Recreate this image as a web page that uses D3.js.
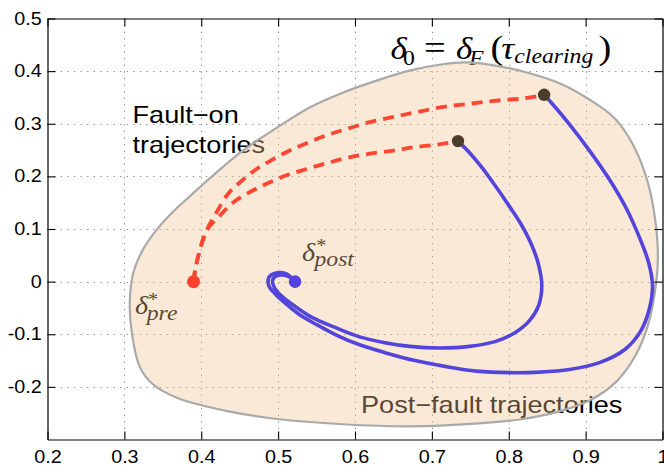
<!DOCTYPE html>
<html>
<head>
<meta charset="utf-8">
<script src="https://cdn.jsdelivr.net/npm/d3@7"></script>
<style>
  body { margin: 0; background: #fff; }
  svg { display: block; }
</style>
</head>
<body>
<svg id="chart" width="664" height="466"></svg>
<script>
// ---- axis ticks ----
const xTickValues = [0.2, 0.3, 0.4, 0.5, 0.6, 0.7, 0.8, 0.9, 1.0];
const xTickLabels = ["0.2", "0.3", "0.4", "0.5", "0.6", "0.7", "0.8", "0.9", "1"];
const yTickValues = [-0.2, -0.1, 0, 0.1, 0.2, 0.3, 0.4, 0.5];
const yTickLabels = ["-0.2", "-0.1", "0", "0.1", "0.2", "0.3", "0.4", "0.5"];

// ---- stability region boundary (closed curve) ----
const regionBoundary = [
  [0.745, 0.4165], [0.788, 0.409], [0.827, 0.396], [0.866, 0.377], [0.905, 0.346],
  [0.938, 0.310], [0.962, 0.259], [0.981, 0.188], [0.991, 0.112], [0.994, 0.044],
  [0.990, -0.021], [0.981, -0.083], [0.965, -0.140], [0.940, -0.190], [0.905, -0.226],
  [0.860, -0.249], [0.814, -0.262], [0.757, -0.270], [0.671, -0.275], [0.584, -0.271],
  [0.499, -0.261], [0.434, -0.246], [0.369, -0.221], [0.337, -0.195], [0.320, -0.162],
  [0.310, -0.100], [0.307, -0.045], [0.311, 0.013], [0.322, 0.055], [0.339, 0.093],
  [0.360, 0.128], [0.385, 0.162], [0.414, 0.200], [0.454, 0.249], [0.499, 0.293],
  [0.541, 0.331], [0.584, 0.359], [0.628, 0.382], [0.671, 0.401], [0.714, 0.413]
];

// ---- equilibria and clearing states ----
const preFaultEquilibrium = [0.39, 0.0];
const postFaultEquilibrium = [0.522, 0.0];
const clearingStates = [[0.846, 0.355], [0.734, 0.267]];

// ---- fault-on trajectories (dashed) ----
const faultOnLong = [
  [0.390, 0.000], [0.392, 0.021], [0.398, 0.059], [0.407, 0.097], [0.420, 0.132],
  [0.435, 0.167], [0.453, 0.192], [0.472, 0.214], [0.494, 0.233], [0.515, 0.249],
  [0.537, 0.263], [0.563, 0.278], [0.589, 0.290], [0.619, 0.303], [0.650, 0.313],
  [0.680, 0.322], [0.715, 0.332], [0.749, 0.338], [0.784, 0.344], [0.819, 0.348],
  [0.846, 0.355]
];
const faultOnShort = [
  [0.390, 0.000], [0.392, 0.021], [0.398, 0.059], [0.407, 0.097], [0.424, 0.125],
  [0.442, 0.151], [0.463, 0.170], [0.485, 0.186], [0.511, 0.202], [0.537, 0.214],
  [0.563, 0.225], [0.589, 0.235], [0.619, 0.243], [0.650, 0.249], [0.680, 0.256],
  [0.710, 0.261], [0.734, 0.267]
];

// ---- post-fault trajectories (solid) ----
const postFaultShort = [
  [0.734, 0.267], [0.749, 0.245], [0.765, 0.217], [0.782, 0.183], [0.799, 0.147],
  [0.816, 0.109], [0.830, 0.069], [0.839, 0.031], [0.843, -0.007], [0.839, -0.045],
  [0.827, -0.074], [0.808, -0.097], [0.782, -0.114], [0.749, -0.123], [0.710, -0.126],
  [0.671, -0.123], [0.639, -0.116], [0.606, -0.105], [0.574, -0.087], [0.544, -0.068],
  [0.522, -0.047], [0.505, -0.028], [0.495, -0.011], [0.493, 0.004], [0.500, 0.012],
  [0.513, 0.010], [0.522, 0.000]
];
const postFaultLong = [
  [0.846, 0.355], [0.856, 0.339], [0.879, 0.299], [0.905, 0.249], [0.931, 0.194],
  [0.953, 0.139], [0.970, 0.084], [0.982, 0.036], [0.987, -0.007], [0.983, -0.051],
  [0.972, -0.093], [0.951, -0.129], [0.918, -0.154], [0.879, -0.167], [0.840, -0.172],
  [0.801, -0.173], [0.758, -0.170], [0.717, -0.161], [0.678, -0.150], [0.639, -0.135],
  [0.606, -0.120], [0.575, -0.101], [0.548, -0.080], [0.528, -0.063], [0.510, -0.042],
  [0.496, -0.023], [0.488, -0.008], [0.488, 0.008], [0.496, 0.016], [0.510, 0.015],
  [0.522, 0.000]
];

// ---- layout ----
const W = 664, H = 466;
const x = d3.scaleLinear().domain([0.2, 1.0]).range([47.5, 662.5]);
const y = d3.scaleLinear().domain([-0.3, 0.5]).range([439.5, 18.5]);
const SX = 1.13; // horizontal stretch applied to all text

const svg = d3.select("#chart");
svg.append("rect").attr("width", W).attr("height", H).attr("fill", "#fff");

// dotted grid
const grid = svg.append("g").attr("stroke", "#8c8c8c").attr("stroke-width", 1)
  .attr("stroke-dasharray", "1.3,5.3");
grid.selectAll("line.gx").data(xTickValues.slice(1, -1)).join("line")
  .attr("x1", d => Math.round(x(d)) + 0.5).attr("x2", d => Math.round(x(d)) + 0.5)
  .attr("y1", y(0.5)).attr("y2", y(-0.3));
grid.selectAll("line.gy").data(yTickValues.slice(0, -1)).join("line")
  .attr("y1", d => Math.round(y(d)) + 0.5).attr("y2", d => Math.round(y(d)) + 0.5)
  .attr("x1", x(0.2)).attr("x2", x(1.0));

// annotations (drawn beneath the translucent region)
const sansFont = "'Liberation Sans', Arial, Helvetica, sans-serif";
const serifFont = "'Liberation Serif', 'Times New Roman', serif";

function stretchedText(px, py, str, size) {
  return svg.append("text")
    .attr("transform", `translate(${px},${py}) scale(${SX},1)`)
    .attr("font-family", sansFont).attr("font-size", size).attr("fill", "#000")
    .text(str);
}
stretchedText(132.5, 123.3, "Fault\u2212on", 24);
stretchedText(132.5, 152.8, "trajectories", 24);
stretchedText(361, 413.3, "Post\u2212fault trajectories", 24);

// math label: one text element, each piece placed as a tspan
function mathLabel(px, py, parts) {
  const t = svg.append("text")
    .attr("transform", `translate(${px},${py}) scale(${SX},1)`)
    .attr("font-family", serifFont).attr("fill", "#000");
  parts.forEach(p => {
    t.append("tspan").attr("x", p.dx).attr("y", p.dy || 0)
      .attr("font-size", p.size)
      .attr("font-style", p.italic ? "italic" : "normal")
      .text(p.t);
  });
}
// δ0 = δF(τclearing)
mathLabel(391.7, 59.3, [
  { t: "\u03B4", dx: -1, size: 31, italic: true },
  { t: "0", dx: 10.0, dy: 5.5, size: 21 },
  { t: "=", dx: 28.5, size: 34 },
  { t: "\u03B4", dx: 57.0, size: 31, italic: true },
  { t: "F", dx: 68.5, dy: 5.5, size: 21, italic: true },
  { t: "(", dx: 87.5, size: 34 },
  { t: "\u03C4", dx: 97.0, size: 32, italic: true },
  { t: "clearing", dx: 108.5, dy: 4, size: 21, italic: true },
  { t: ")", dx: 183.0, size: 34 }
]);
// δ*post
mathLabel(302, 260.5, [
  { t: "\u03B4", dx: 0, size: 25, italic: true },
  { t: "*", dx: 12.6, dy: -8.5, size: 18 },
  { t: "post", dx: 11.0, dy: 5.5, size: 21, italic: true }
]);
// δ*pre
mathLabel(135, 314, [
  { t: "\u03B4", dx: 0, size: 25, italic: true },
  { t: "*", dx: 11.6, dy: -8.5, size: 18 },
  { t: "pre", dx: 10.4, dy: 5.8, size: 21, italic: true }
]);

// stability region: translucent fill + grey outline
svg.append("path")
  .attr("d", d3.line().x(d => x(d[0])).y(d => y(d[1]))
    .curve(d3.curveCatmullRomClosed.alpha(0.5))(regionBoundary))
  .attr("fill", "rgb(240,195,140)").attr("fill-opacity", 0.36)
  .attr("stroke", "#a9a9a9").attr("stroke-width", 2.2);

// trajectories
const traj = d3.line().x(d => x(d[0])).y(d => y(d[1])).curve(d3.curveCatmullRom.alpha(0.5));

[faultOnLong, faultOnShort].forEach(pts => {
  svg.append("path").attr("d", traj(pts)).attr("fill", "none")
    .attr("stroke", "#ff4633").attr("stroke-width", 3.8)
    .attr("stroke-dasharray", "11,7");
});
[postFaultShort, postFaultLong].forEach(pts => {
  svg.append("path").attr("d", traj(pts)).attr("fill", "none")
    .attr("stroke", "#5345dc").attr("stroke-width", 3.6)
    .attr("stroke-linejoin", "round");
});

// equilibrium and clearing markers
svg.append("circle").attr("cx", x(preFaultEquilibrium[0])).attr("cy", y(preFaultEquilibrium[1]))
  .attr("r", 6.5).attr("fill", "#ff4130");
svg.append("circle").attr("cx", x(postFaultEquilibrium[0])).attr("cy", y(postFaultEquilibrium[1]))
  .attr("r", 6.3).attr("fill", "#5345dc");
svg.selectAll("circle.clear").data(clearingStates).join("circle")
  .attr("cx", d => x(d[0])).attr("cy", d => y(d[1])).attr("r", 6.2).attr("fill", "#4a3d2b");

// axes box with inward ticks
function styleAxis(g) {
  g.select(".domain").attr("stroke", "#000").attr("stroke-width", 1.2);
  g.selectAll(".tick line").attr("stroke", "#000").attr("stroke-width", 1.1);
  g.selectAll(".tick text").attr("fill", "#000")
    .attr("font-family", sansFont).attr("font-size", 17.5);
}
const gx = svg.append("g").attr("transform", `translate(0,${y(-0.3)})`)
  .call(d3.axisBottom(x).tickValues(xTickValues).tickFormat((d, i) => xTickLabels[i])
    .tickSize(-8).tickSizeOuter(0).tickPadding(10.8));
styleAxis(gx);
gx.selectAll(".tick text").attr("transform", `scale(${SX},1)`);

const gy = svg.append("g").attr("transform", `translate(${x(0.2)},0)`)
  .call(d3.axisLeft(y).tickValues(yTickValues).tickFormat((d, i) => yTickLabels[i])
    .tickSize(-8).tickSizeOuter(0).tickPadding(5.1));
styleAxis(gy);
gy.selectAll(".tick text").attr("transform", `scale(${SX},1)`);

const gt = svg.append("g").attr("transform", `translate(0,${y(0.5)})`)
  .call(d3.axisTop(x).tickValues(xTickValues).tickFormat("").tickSize(-8).tickSizeOuter(0));
styleAxis(gt);
const gr = svg.append("g").attr("transform", `translate(${x(1.0)},0)`)
  .call(d3.axisRight(y).tickValues(yTickValues).tickFormat("").tickSize(-8).tickSizeOuter(0));
styleAxis(gr);
</script>
</body>
</html>
